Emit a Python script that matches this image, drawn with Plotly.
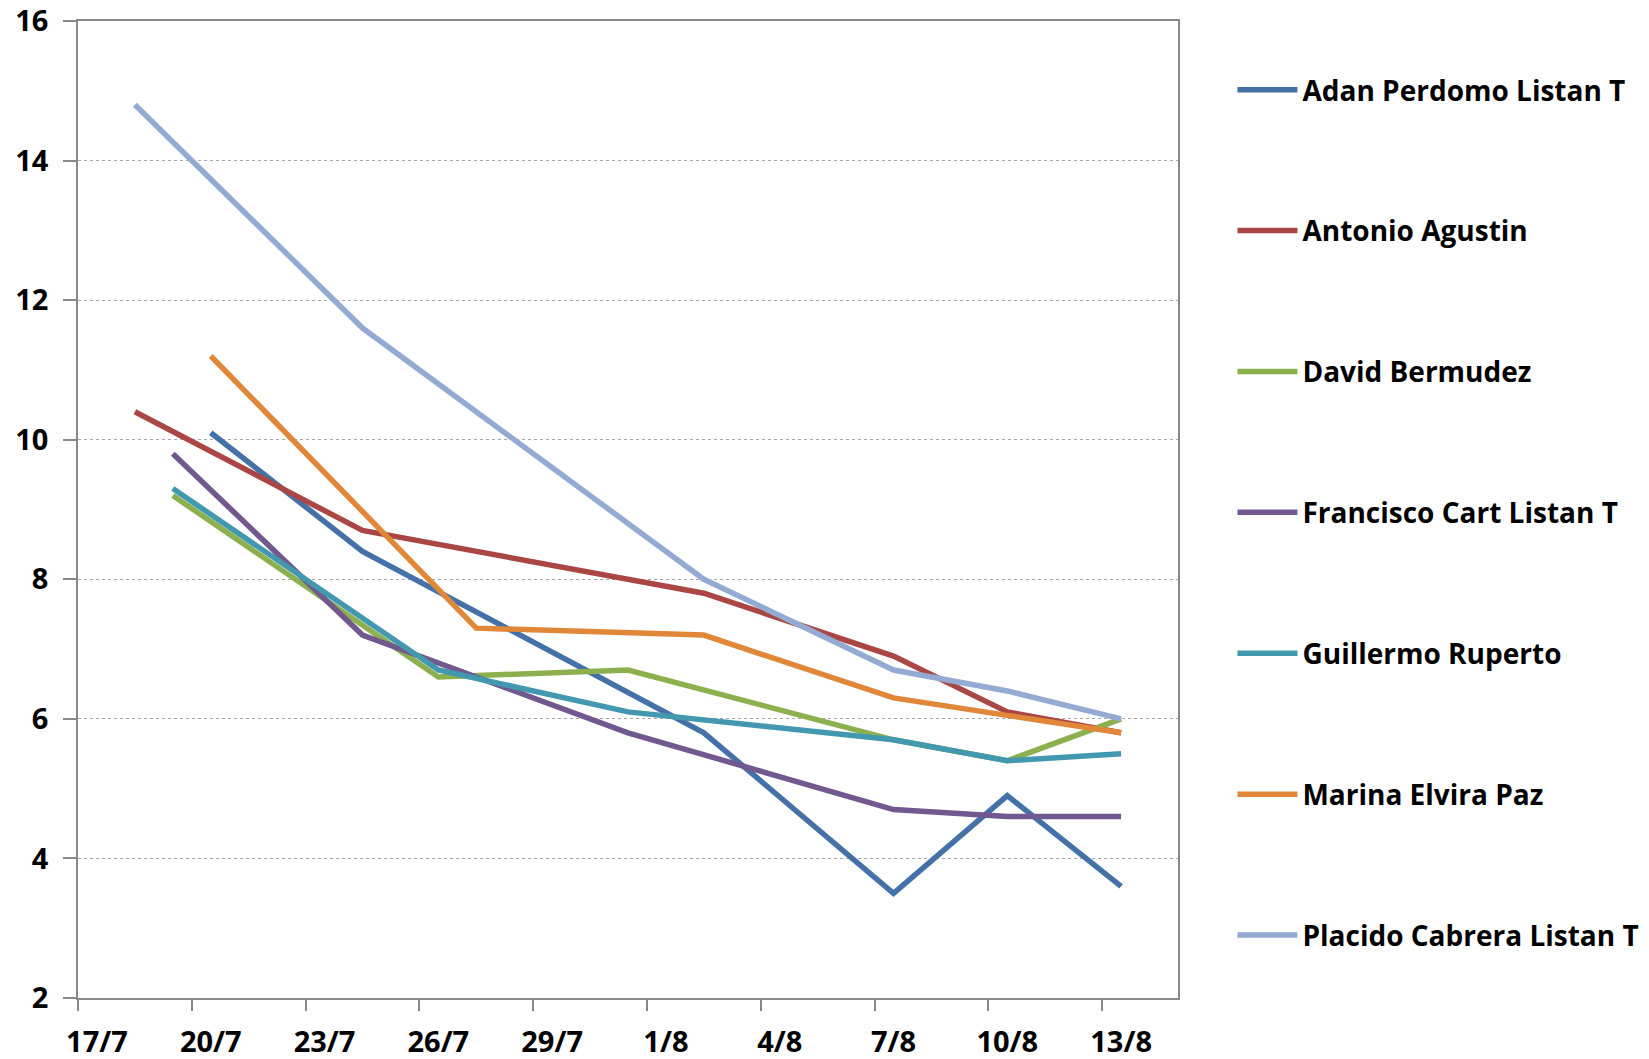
import plotly.graph_objects as go
import pandas as pd

YEAR = 2010
series_names = [
    "Adan Perdomo Listan T",
    "Antonio Agustin",
    "David Bermudez",
    "Francisco Cart Listan T",
    "Guillermo Ruperto",
    "Marina Elvira Paz",
    "Placido Cabrera Listan T",
]

adan_dates = ["20/7", "24/7", "2/8", "7/8", "10/8", "13/8"]
adan_values = [10.1, 8.4, 5.8, 3.5, 4.9, 3.6]

antonio_dates = ["18/7", "24/7", "2/8", "7/8", "10/8", "13/8"]
antonio_values = [10.4, 8.7, 7.8, 6.9, 6.1, 5.8]

david_dates = ["19/7", "26/7", "31/7", "7/8", "10/8", "13/8"]
david_values = [9.2, 6.6, 6.7, 5.7, 5.4, 6.0]

francisco_dates = ["19/7", "24/7", "31/7", "7/8", "10/8", "13/8"]
francisco_values = [9.8, 7.2, 5.8, 4.7, 4.6, 4.6]

guillermo_dates = ["19/7", "26/7", "31/7", "7/8", "10/8", "13/8"]
guillermo_values = [9.3, 6.7, 6.1, 5.7, 5.4, 5.5]

marina_dates = ["20/7", "27/7", "2/8", "7/8", "10/8", "13/8"]
marina_values = [11.2, 7.3, 7.2, 6.3, 6.05, 5.8]

placido_dates = ["18/7", "24/7", "2/8", "7/8", "10/8", "13/8"]
placido_values = [14.8, 11.6, 8.0, 6.7, 6.4, 6.0]

tick_labels = ["17/7", "20/7", "23/7", "26/7", "29/7", "1/8", "4/8", "7/8", "10/8", "13/8"]

colors = ["#4472A8", "#AA4643", "#8DB04F", "#71588F", "#4198AF", "#E0873A", "#93AAD3"]

all_dates = [adan_dates, antonio_dates, david_dates, francisco_dates,
             guillermo_dates, marina_dates, placido_dates]
all_values = [adan_values, antonio_values, david_values, francisco_values,
              guillermo_values, marina_values, placido_values]


def to_dt(s):
    d, m = s.split("/")
    return pd.Timestamp(year=YEAR, month=int(m), day=int(d))


HALF = pd.Timedelta(hours=12)  # Excel date axis: points centred in the day slot

fig = go.Figure()
for name, dts, vals, col in zip(series_names, all_dates, all_values, colors):
    fig.add_trace(go.Scatter(
        x=[to_dt(s) + HALF for s in dts],
        y=vals,
        mode="lines",
        name=name,
        legendgroup=name,
        line=dict(color=col, width=5.5),
    ))

FONT = "Open Sans"
axis_col = "#888888"

fig.update_layout(
    width=1649, height=1059,
    margin=dict(l=78, r=471, t=21, b=61, autoexpand=False),
    paper_bgcolor="white", plot_bgcolor="white",
    font=dict(family=FONT, color="black"),
    showlegend=True,
    legend=dict(
        x=1.0495, xanchor="left", y=0.955, yanchor="top",
        font=dict(family=FONT, size=28, color="black", weight="bold"),
        itemwidth=60,
        tracegroupgap=101.5,
        bgcolor="rgba(0,0,0,0)",
    ),
    xaxis=dict(
        type="date",
        automargin=False,
        range=[to_dt("17/7"), to_dt("15/8")],
        tickmode="array",
        tickvals=[to_dt(t) + HALF for t in tick_labels],
        ticktext=tick_labels,
        ticks="",
        ticklabelstandoff=17,
        ticklabeloverflow="allow",
        tickfont=dict(family=FONT, size=29, color="black", weight="bold"),
        showgrid=False,
        showline=True, linecolor=axis_col, linewidth=1.5, mirror=True,
        zeroline=False,
        minor=dict(ticks="outside", ticklen=11, tickcolor=axis_col, tickwidth=1.5,
                   tickmode="array", tickvals=[to_dt(t) for t in tick_labels],
                   showgrid=False),
    ),
    yaxis=dict(
        automargin=False,
        range=[2, 16], dtick=2, tick0=2,
        ticks="outside", ticklen=13, tickcolor=axis_col, tickwidth=1.5,
        ticklabelstandoff=9,
        ticklabeloverflow="allow",
        tickfont=dict(family=FONT, size=29, color="black", weight="bold"),
        showgrid=True, gridcolor="#A6A6A6", griddash="dot", gridwidth=1,
        showline=True, linecolor=axis_col, linewidth=1.5, mirror=True,
        zeroline=False,
    ),
)

fig.write_html("out.html",
               config={"displayModeBar": False},
               post_script="document.body.style.margin='0';document.body.style.overflow='hidden';")
